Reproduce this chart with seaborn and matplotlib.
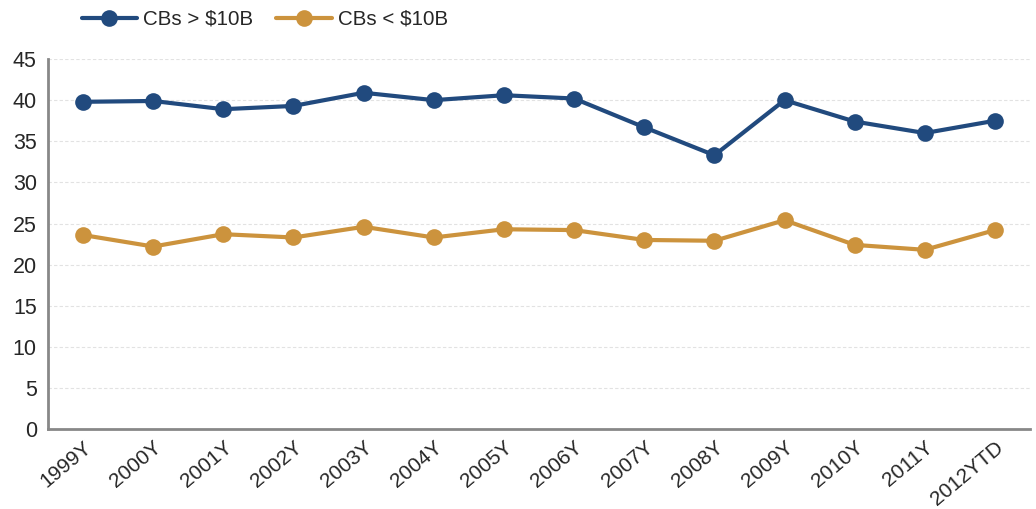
import pandas as pd
import seaborn as sns
import matplotlib.pyplot as plt
from matplotlib.ticker import FixedLocator

sns.set_style("white")
plt.rcParams["font.family"] = ["Liberation Sans", "DejaVu Sans"]

# Chart data
years = ["1999Y", "2000Y", "2001Y", "2002Y", "2003Y", "2004Y", "2005Y",
         "2006Y", "2007Y", "2008Y", "2009Y", "2010Y", "2011Y", "2012YTD"]
cbs_large = [39.8, 39.9, 38.9, 39.3, 40.9, 40.0, 40.6,
             40.2, 36.7, 33.3, 40.0, 37.4, 36.0, 37.5]
cbs_small = [23.6, 22.2, 23.7, 23.3, 24.6, 23.3, 24.3,
             24.2, 23.0, 22.9, 25.4, 22.4, 21.8, 24.2]
series_names = ["CBs > $10B", "CBs < $10B"]
colors = ["#214A7E", "#CC933D"]

# Long format table for seaborn
df = pd.DataFrame({
    "year": years * 2,
    "pos": list(range(len(years))) * 2,
    "value": cbs_large + cbs_small,
    "series": [series_names[0]] * len(years) + [series_names[1]] * len(years),
})

fig = plt.figure(figsize=(10.36, 5.09), dpi=100)
ax = fig.add_axes([0.0463, 0.157, 0.948, 0.727])

sns.lineplot(data=df, x="pos", y="value", hue="series", hue_order=series_names,
             palette=colors, marker="o", markersize=12, markeredgewidth=0,
             linewidth=3, ax=ax, legend=False)

# Axes & Grid
ax.set_xlim(-0.5, len(years) - 0.5)
ax.set_ylim(0, 45)
ax.set_yticks(range(0, 50, 5))
ax.yaxis.grid(True, color="#E2E2E2", linestyle=(0, (3, 2)), linewidth=0.8)
ax.set_axisbelow(True)

# Ticks between categories, labels at category centres
ax.xaxis.set_major_locator(FixedLocator([i - 0.5 for i in range(len(years) + 1)]))
ax.xaxis.set_minor_locator(FixedLocator(list(range(len(years)))))
ax.set_xticklabels([])
ax.set_xticklabels(years, minor=True, rotation=40, ha="right", rotation_mode="anchor",
                   fontsize=15)
ax.tick_params(axis="x", which="major", length=5, width=1.5, color="#888888")
ax.tick_params(axis="x", which="minor", length=0, pad=6)
ax.tick_params(axis="y", length=5, width=1.5, color="#888888", labelsize=15.5, pad=3)

for side in ["top", "right"]:
    ax.spines[side].set_visible(False)
for side in ["left", "bottom"]:
    ax.spines[side].set_color("#888888")
    ax.spines[side].set_linewidth(2)

ax.set_xlabel("")
ax.set_ylabel("")

# Legend above plot
handles = [plt.Line2D([], [], color=c, marker="o", markersize=12, markeredgewidth=0,
                      linewidth=3) for c in colors]
fig.legend(handles, series_names, loc="upper left", bbox_to_anchor=(0.061, 1.017),
           ncol=2, frameon=False, fontsize=14.8, handlelength=2.7, columnspacing=1.1,
           handletextpad=0.3)

fig.savefig("out.png", dpi=100)
